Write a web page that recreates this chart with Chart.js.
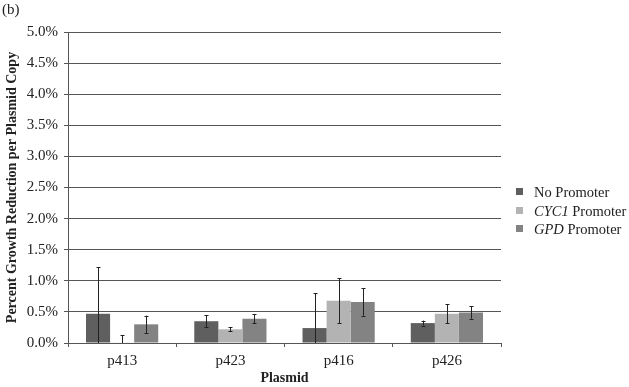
<!DOCTYPE html>
<html>
<head>
<meta charset="utf-8">
<script src="https://cdn.jsdelivr.net/npm/chart.js@4/dist/chart.umd.min.js"></script>
<style>
  html, body { margin: 0; padding: 0; background: #fff; }
  #wrap { position: relative; width: 629px; height: 387px; font-family: "Liberation Serif", "Times New Roman", serif; }
  #tag { position: absolute; left: 2px; top: 1px; font-size: 15px; color: #222; }
  #legend { position: absolute; left: 516px; top: 183px; font-size: 14.5px; color: #222; }
  #legend div { height: 18.5px; line-height: 18.5px; white-space: nowrap; }
  #legend span.box { display: inline-block; width: 7px; height: 7px; margin-right: 11px; vertical-align: 2px; }
</style>
</head>
<body>
<div id="wrap">
  <canvas id="chart" width="629" height="387"></canvas>
  <div id="tag">(b)</div>
  <div id="legend"></div>
</div>
<script>
// ========== データ ==========
const plasmids = ["p413", "p423", "p416", "p426"];
const seriesNames = ["No Promoter", "<i>CYC1</i> Promoter", "<i>GPD</i> Promoter"];
const seriesColors = ["#5f5f5f", "#b3b3b3", "#838383"];

const noPromoter = [0.47, 0.35, 0.24, 0.32];
const cyc1Promoter = [0.01, 0.22, 0.68, 0.47];
const gpdPromoter = [0.30, 0.39, 0.66, 0.49];

const noPromoterErr = [0.75, 0.10, 0.56, 0.04];
const cyc1PromoterErr = [0.12, 0.03, 0.36, 0.155];
const gpdPromoterErr = [0.14, 0.07, 0.22, 0.10];

const yTicks = [0, 0.5, 1.0, 1.5, 2.0, 2.5, 3.0, 3.5, 4.0, 4.5, 5.0];

// ========== エラーバー ==========
const errorBarPlugin = {
  id: "errorBars",
  afterDatasetsDraw(chart) {
    const ctx = chart.ctx;
    const yScale = chart.scales.y;
    const area = chart.chartArea;
    ctx.save();
    ctx.strokeStyle = "#222";
    ctx.lineWidth = 1;
    chart.data.datasets.forEach((ds, i) => {
      const meta = chart.getDatasetMeta(i);
      meta.data.forEach((bar, j) => {
        const v = ds.data[j];
        const e = ds.errors[j];
        const x = Math.round(bar.x) + 0.5;
        let yTop = yScale.getPixelForValue(v + e);
        let yBot = yScale.getPixelForValue(v - e);
        const botClipped = yBot > area.bottom;
        yBot = Math.min(yBot, area.bottom);
        ctx.beginPath();
        ctx.moveTo(x, yTop);
        ctx.lineTo(x, yBot);
        ctx.moveTo(x - 2, Math.round(yTop) + 0.5);
        ctx.lineTo(x + 2, Math.round(yTop) + 0.5);
        if (!botClipped) {
          ctx.moveTo(x - 2, Math.round(yBot) + 0.5);
          ctx.lineTo(x + 2, Math.round(yBot) + 0.5);
        }
        ctx.stroke();
      });
    });
    ctx.restore();
  }
};

// ========== 凡例 ==========
function renderLegend() {
  const legend = document.getElementById("legend");
  legend.innerHTML = seriesNames.map((name, i) =>
    `<div><span class="box" style="background:${seriesColors[i]}"></span>${name}</div>`
  ).join("");
}

// ========== グラフ描画 ==========
const serif = "'Liberation Serif', 'Times New Roman', serif";

new Chart(document.getElementById("chart").getContext("2d"), {
  type: "bar",
  data: {
    labels: plasmids,
    datasets: [
      { label: "No Promoter", data: noPromoter, errors: noPromoterErr, backgroundColor: seriesColors[0] },
      { label: "CYC1 Promoter", data: cyc1Promoter, errors: cyc1PromoterErr, backgroundColor: seriesColors[1] },
      { label: "GPD Promoter", data: gpdPromoter, errors: gpdPromoterErr, backgroundColor: seriesColors[2] }
    ]
  },
  options: {
    responsive: false,
    animation: false,
    layout: { padding: { left: 4, right: 128, top: 32, bottom: 0 } },
    datasets: { bar: { barPercentage: 1.0, categoryPercentage: 0.667 } },
    plugins: {
      legend: { display: false },
      tooltip: { enabled: false }
    },
    scales: {
      y: {
        min: 0,
        max: 5,
        afterBuildTicks(scale) {
          scale.ticks = yTicks.map(v => ({ value: v }));
        },
        afterFit(scale) { scale.width = 64; },
        ticks: {
          color: "#222",
          font: { family: serif, size: 15 },
          padding: 6,
          callback: v => v.toFixed(1) + "%"
        },
        grid: { color: "#555", lineWidth: 1, tickLength: 4 },
        border: { color: "#555", width: 1 },
        title: {
          display: true,
          text: "Percent Growth Reduction per Plasmid Copy",
          color: "#222",
          font: { family: serif, size: 14, weight: "bold" },
          padding: { top: 0, bottom: 2 }
        }
      },
      x: {
        afterFit(scale) { scale.height = 44; },
        ticks: {
          color: "#222",
          font: { family: serif, size: 15 },
          padding: 5
        },
        grid: { drawOnChartArea: false, offset: true, color: "#555", tickLength: 4 },
        border: { color: "#555", width: 1 },
        title: {
          display: true,
          text: "Plasmid",
          color: "#222",
          font: { family: serif, size: 14, weight: "bold" },
          padding: { top: 0, bottom: 0 }
        }
      }
    }
  },
  plugins: [errorBarPlugin]
});

renderLegend();
</script>
</body>
</html>
